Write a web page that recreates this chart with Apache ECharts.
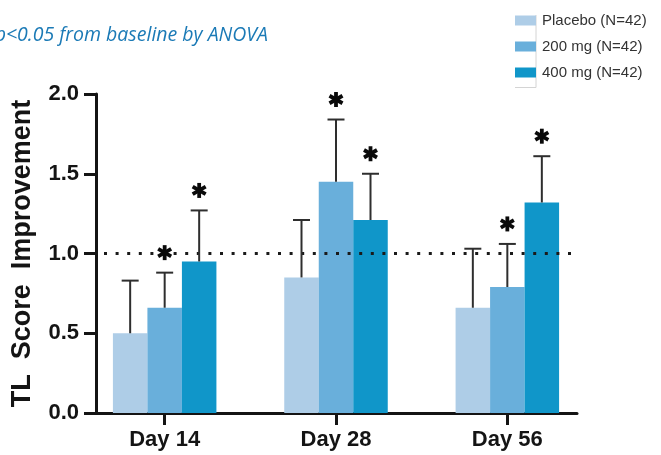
<!DOCTYPE html>
<html>
<head>
<meta charset="utf-8">
<script src="https://cdn.jsdelivr.net/npm/echarts@6/dist/echarts.min.js"></script>
<style>
html,body{margin:0;padding:0;background:#fff;}
#chart{width:661px;height:455px;}
</style>
</head>
<body>
<div id="chart"></div>
<script>
// ---- data ----
const categories = ['Day 14', 'Day 28', 'Day 56'];
const seriesNames = ['Placebo (N=42)', '200 mg (N=42)', '400 mg (N=42)'];
const placebo = [0.50, 0.85, 0.66];
const placeboUpper = [0.83, 1.21, 1.03];
const mg200 = [0.66, 1.45, 0.79];
const mg200Upper = [0.88, 1.84, 1.06];
const mg400 = [0.95, 1.21, 1.32];
const mg400Upper = [1.27, 1.50, 1.61];
const placeboSig = [0, 0, 0];
const mg200Sig = [1, 1, 1];
const mg400Sig = [1, 1, 1];
const yTicks = [0, 0.5, 1.0, 1.5, 2.0];
const refLine = 1.0;
const titleText = '*p<0.05 from baseline by ANOVA';

// ---- styles ----
const colors = ['#aecde7', '#69afdb', '#1096c9'];
const BAR_W = 34.5;
const FONT = 'Liberation Sans, Arial, Helvetica, sans-serif';
const INK = '#141414';

const chart = echarts.init(document.getElementById('chart'), null, {renderer: 'canvas'});

function errSeries(k, vals, uppers, sigs) {
  return {
    type: 'custom',
    xAxisIndex: 1,
    yAxisIndex: 1,
    z: 5,
    silent: true,
    data: vals.map((v, i) => [i, v, uppers[i], sigs[i]]),
    encode: {x: 0, y: [1, 2]},
    renderItem: function (params, api) {
      const i = api.value(0);
      const base = api.coord([i, api.value(1)]);
      const hi = api.coord([i, api.value(2)]);
      const x = base[0] + (k - 1) * BAR_W;
      const children = [
        {type: 'line', shape: {x1: x, y1: base[1], x2: x, y2: hi[1]}, style: {stroke: '#2e2e2e', lineWidth: 2}},
        {type: 'line', shape: {x1: x - 8.5, y1: hi[1], x2: x + 8.5, y2: hi[1]}, style: {stroke: '#2e2e2e', lineWidth: 2}}
      ];
      if (api.value(3)) {
        const cy = hi[1] - 20;
        const r = 7.5;
        [90, 30, 150].forEach(function (deg) {
          const a = deg * Math.PI / 180;
          children.push({type: 'line', shape: {x1: x - r * Math.cos(a), y1: cy - r * Math.sin(a), x2: x + r * Math.cos(a), y2: cy + r * Math.sin(a)},
            style: {stroke: '#0a0a0a', lineWidth: 3.8}});
        });
      }
      return {type: 'group', children: children};
    }
  };
}

const option = {
  animation: false,
  backgroundColor: '#ffffff',
  textStyle: {fontFamily: FONT},
  graphic: [
    {type: 'text', right: 661 - 268, top: 25, style: {text: titleText, font: 'italic 19.5px "Open Sans", sans-serif', fill: '#1b7ab6'}},
    {type: 'polyline', shape: {points: [[536, 15], [536, 87.5], [515, 87.5]]}, style: {stroke: '#d4d4d4', lineWidth: 1, fill: null}, z: 1}
  ],
  legend: {
    orient: 'vertical',
    left: 510,
    top: 8,
    itemWidth: 21,
    itemHeight: 10,
    itemGap: 11,
    icon: 'rect',
    selectedMode: false,
    data: seriesNames,
    textStyle: {fontFamily: FONT, fontSize: 15, color: '#333', padding: [0, 0, 0, 1]}
  },
  grid: [
    {left: 96, right: 84, top: 94, bottom: 42, containLabel: false},
    {left: 79, right: 68, top: 94, bottom: 42, containLabel: false}
  ],
  xAxis: [
    {
      gridIndex: 0, type: 'value', min: 0, max: 1,
      axisLine: {show: true, lineStyle: {color: INK, width: 3}},
      axisTick: {show: false}, axisLabel: {show: false}, splitLine: {show: false}
    },
    {
      gridIndex: 1, type: 'category', data: categories,
      axisLine: {show: false},
      axisTick: {show: true, alignWithLabel: true, length: 12, lineStyle: {color: INK, width: 3}},
      axisLabel: {fontFamily: FONT, fontSize: 22, fontWeight: 'bold', color: INK, margin: 16},
      splitLine: {show: false}
    }
  ],
  yAxis: [
    {
      gridIndex: 0, type: 'value', min: 0, max: 2, interval: 0.5,
      name: 'TL  Score  Improvement',
      nameLocation: 'middle',
      nameGap: 60,
      nameTextStyle: {fontFamily: FONT, fontSize: 27, fontWeight: 'bold', color: INK},
      axisLine: {show: true, lineStyle: {color: INK, width: 3}},
      axisTick: {show: true, length: 12, lineStyle: {color: INK, width: 3}},
      axisLabel: {fontFamily: FONT, fontSize: 22, fontWeight: 'bold', color: INK, margin: 17,
        formatter: v => yTicks.indexOf(v) >= 0 ? v.toFixed(1) : ''},
      splitLine: {show: false}
    },
    {
      gridIndex: 1, type: 'value', min: 0, max: 2, show: false
    }
  ],
  series: [
    {
      type: 'line', xAxisIndex: 0, yAxisIndex: 0, data: [], z: 1, silent: true,
      markLine: {
        symbol: 'none', silent: true, label: {show: false},
        lineStyle: {color: '#1a1a1a', width: 3, type: [3, 8.6], dashOffset: -8},
        data: [{yAxis: refLine}]
      }
    },
    {name: seriesNames[0], type: 'bar', xAxisIndex: 1, yAxisIndex: 1, data: placebo, barWidth: BAR_W, barGap: '0%', z: 3, itemStyle: {color: colors[0]}},
    {name: seriesNames[1], type: 'bar', xAxisIndex: 1, yAxisIndex: 1, data: mg200, barWidth: BAR_W, barGap: '0%', z: 3, itemStyle: {color: colors[1]}},
    {name: seriesNames[2], type: 'bar', xAxisIndex: 1, yAxisIndex: 1, data: mg400, barWidth: BAR_W, barGap: '0%', z: 3, itemStyle: {color: colors[2]}},
    errSeries(0, placebo, placeboUpper, placeboSig),
    errSeries(1, mg200, mg200Upper, mg200Sig),
    errSeries(2, mg400, mg400Upper, mg400Sig)
  ]
};
chart.setOption(option);
</script>
</body>
</html>
